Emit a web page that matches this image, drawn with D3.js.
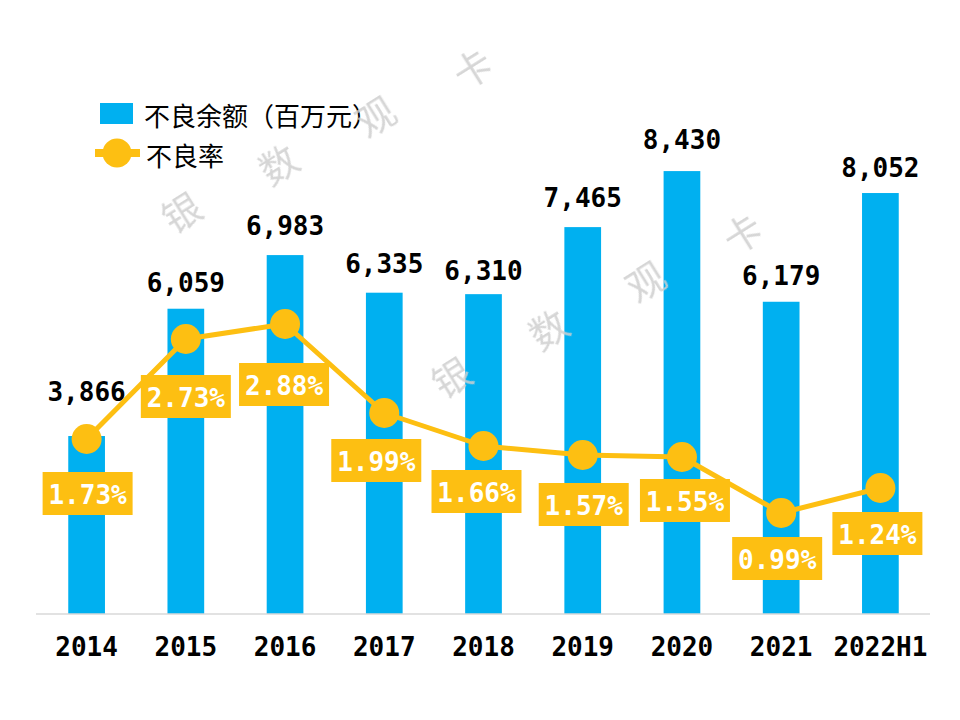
<!DOCTYPE html>
<html><head><meta charset="utf-8">
<script src="https://cdn.jsdelivr.net/npm/d3@7/dist/d3.min.js"></script>
<style>body{margin:0;background:#fff}svg{display:block}</style>
</head><body>
<svg id="c" width="960" height="720"></svg>
<script>
// ---- data ----
const categories = ["2014","2015","2016","2017","2018","2019","2020","2021","2022H1"];
const nplBalance = [3866, 6059, 6983, 6335, 6310, 7465, 8430, 6179, 8052]; // 百万元
const nplRatio = [1.73, 2.73, 2.88, 1.99, 1.66, 1.57, 1.55, 0.99, 1.24]; // %
const legendLabels = ["不良余额（百万元）", "不良率"];
const watermark = "银数观卡";

// ---- layout config (not data) ----
const ratioLabelNudge = [[1,55],[0,58],[-1,61],[-8,48],[-7,46],[1,50],[3,44],[-4,46],[-3,46]];
const valueLabelGap = [35,17,20,20,14,20,22,17,16];

const BLUE = "#00B0F0", GOLD = "#FDBF12";
const mono = "'DejaVu Sans Mono', monospace";
const cjk = "'Noto Sans CJK SC', 'Noto Sans', sans-serif";

const svg = d3.select("#c");
const x = d3.scaleBand().domain(categories).range([37, 930]).paddingInner(0.63).paddingOuter(0.315);
const yBar = d3.scaleLinear().domain([800, 9000]).range([614, 138]);
const yRate = d3.scaleLinear().domain([0, 4]).range([612, 212]);
const cx = c => x(c) + x.bandwidth() / 2;

// bars
svg.append("g").selectAll("rect").data(categories).join("rect")
  .attr("x", d => x(d)).attr("width", x.bandwidth())
  .attr("y", (d,i) => yBar(nplBalance[i]))
  .attr("height", (d,i) => yBar.range()[0] - yBar(nplBalance[i]))
  .attr("fill", BLUE);

// axis
const xAxis = d3.axisBottom(x).tickSize(0).tickPadding(0);
const ax = svg.append("g").attr("transform", "translate(0,614)").call(xAxis);
ax.select(".domain").attr("stroke", "#d9d9d9").attr("stroke-width", 1.5).attr("d", "M36,0H930");
ax.selectAll("text").attr("y", 42).attr("dy", null)
  .style("font-family", mono).style("font-weight", "bold").style("font-size", "26px").attr("fill", "#000");

// value labels
svg.append("g").selectAll("text").data(categories).join("text")
  .attr("x", d => cx(d)).attr("y", (d,i) => yBar(nplBalance[i]) - valueLabelGap[i])
  .attr("text-anchor", "middle")
  .style("font-family", mono).style("font-weight", "bold").style("font-size", "26px")
  .attr("fill", "#000").text((d,i) => d3.format(",")(nplBalance[i]));

// line
const line = d3.line().x(d => cx(d)).y((d,i) => yRate(nplRatio[i]));
svg.append("path").datum(categories).attr("d", line)
  .attr("fill", "none").attr("stroke", GOLD).attr("stroke-width", 5).attr("stroke-linejoin", "round");
svg.append("g").selectAll("circle").data(categories).join("circle")
  .attr("cx", d => cx(d)).attr("cy", (d,i) => yRate(nplRatio[i])).attr("r", 15).attr("fill", GOLD);

// ratio labels
const lg = svg.append("g").selectAll("g").data(categories).join("g")
  .attr("transform", (d,i) => `translate(${cx(d) + ratioLabelNudge[i][0]},${yRate(nplRatio[i]) + ratioLabelNudge[i][1]})`);
lg.append("rect").attr("x", -45).attr("y", -22).attr("width", 90).attr("height", 43).attr("fill", GOLD);
lg.append("text").attr("text-anchor", "middle").attr("y", 9.5)
  .style("font-family", mono).style("font-weight", "bold").style("font-size", "26px")
  .attr("fill", "#fff").text((d,i) => nplRatio[i].toFixed(2) + "%");

// legend
const leg = svg.append("g");
leg.append("rect").attr("x", 100).attr("y", 103).attr("width", 33).attr("height", 21).attr("fill", BLUE);
leg.append("text").attr("x", 144).attr("y", 114).attr("dominant-baseline", "central")
  .style("font-family", cjk).style("font-size", "26px").attr("fill", "#000").text(legendLabels[0]);
leg.append("line").attr("x1", 95).attr("x2", 140).attr("y1", 153).attr("y2", 153).attr("stroke", GOLD).attr("stroke-width", 8);
leg.append("circle").attr("cx", 117).attr("cy", 153).attr("r", 14.5).attr("fill", GOLD);
leg.append("text").attr("x", 146).attr("y", 154).attr("dominant-baseline", "central")
  .style("font-family", cjk).style("font-size", "26px").attr("fill", "#000").text(legendLabels[1]);

// watermark
const wm = svg.append("g").attr("fill", "#cfcfcf").attr("opacity", 0.85)
  .style("font-family", cjk).style("font-size", "38px");
[[180,210],[450,375]].forEach(([sx,sy]) => {
  watermark.split("").forEach((ch,k) => {
    wm.append("text").attr("text-anchor","middle").attr("dominant-baseline","central")
      .attr("transform", `translate(${sx + k*97},${sy - k*48}) rotate(-32)`).text(ch);
  });
});
</script>
</body></html>
